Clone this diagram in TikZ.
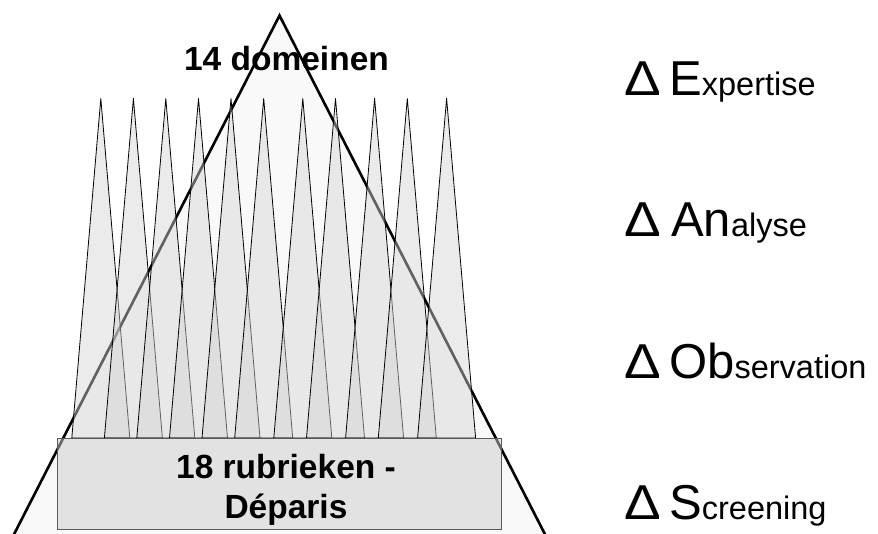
\documentclass[tikz,border=0pt]{standalone}
\usepackage{fontspec}
\setmainfont{Liberation Sans}
\newcommand\BigL[1]{{\fontsize{49}{49}\selectfont #1}}
\newcommand\SmallL[1]{{\fontsize{32.5}{33}\selectfont #1}}
\begin{document}
\begin{tikzpicture}[x=1pt,y=-1pt,
  bigtri/.style={draw=black, line width=2.6pt, fill=black!2.5, line join=miter},
  spike/.style={draw=black, line width=0.8pt, fill=black!17, fill opacity=0.46, line join=round},
  rubbox/.style={draw=black!65, line width=1.3pt, fill=black!20, fill opacity=0.5, inner sep=0pt},
  boldlbl/.style={font=\bfseries\fontsize{33.5}{40}\selectfont, inner sep=0pt, anchor=base},
  deltalbl/.style={font=\fontsize{49}{49}\selectfont, inner sep=0pt, anchor=base west},
  wordlbl/.style={inner sep=0pt, anchor=base west}]
\useasboundingbox (0,0) rectangle (878,533);
\clip (0,0) rectangle (878,533);
\fill[white] (0,0) rectangle (878,533);
% big triangle
\coordinate (apex) at (279.5,15.5);
\coordinate (bl) at (7.5,547);
\coordinate (br) at (551.5,547);
\filldraw[bigtri] (apex) -- (br) -- (bl) -- cycle;
% spikes
\foreach \c in {100.8,133.4,165.8,198.5,231,263.7,302.8,335.5,374.6,407.3,446.6}{
  \filldraw[spike] (\c,98.5) -- (\c+29,438) -- (\c-29,438) -- cycle;
}
% box
\node[rubbox, minimum width=444pt, minimum height=91pt, anchor=north west] (rub) at (57,438) {};
% labels
\node[boldlbl] (dom) at (286.5,70) {14 domeinen};
\node[boldlbl] (r1) at (286,478) {18 rubrieken -};
\node[boldlbl] (r2) at (286,518) {Déparis};
% right list
\node[deltalbl] (d1) at (624,95) {\scalebox{1.12}[1]{Δ}};
\node[wordlbl] (w1) at (669,95) {\BigL{E}\SmallL{xpertise}};
\node[deltalbl] (d2) at (624,236.5) {\scalebox{1.12}[1]{Δ}};
\node[wordlbl] (w2) at (671,236.5) {\BigL{An}\SmallL{alyse}};
\node[deltalbl] (d3) at (624,378) {\scalebox{1.12}[1]{Δ}};
\node[wordlbl] (w3) at (669,378) {\BigL{Ob}\SmallL{servation}};
\node[deltalbl] (d4) at (624,519) {\scalebox{1.12}[1]{Δ}};
\node[wordlbl] (w4) at (669,519) {\BigL{S}\SmallL{creening}};
\end{tikzpicture}
\end{document}
